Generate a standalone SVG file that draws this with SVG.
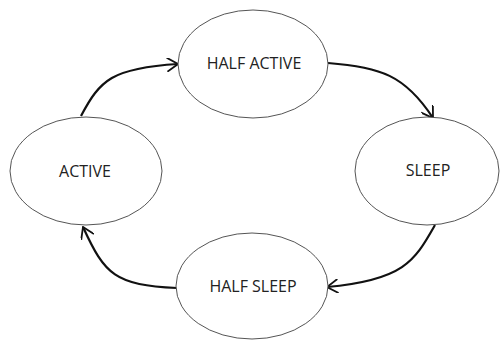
<svg xmlns="http://www.w3.org/2000/svg" width="500" height="340" viewBox="0 0 500 340">
<style>
.node ellipse{fill:#fff;stroke:#555;stroke-width:1}
.node text{font-family:"Open Sans","Liberation Sans",sans-serif;font-size:16px;fill:#222;text-anchor:middle}
.edge{fill:none;stroke:#111;stroke-width:2.2;marker-end:url(#arr)}
</style>
<defs>
<marker id="arr" markerUnits="userSpaceOnUse" viewBox="0 0 14 14" refX="13" refY="7" markerWidth="14" markerHeight="14" orient="auto">
<path d="M2,0 L13,7 L2,14" fill="none" stroke="#111" stroke-width="1.8"/>
</marker>
</defs>
<rect width="500" height="340" fill="#fff"/>
<g id="connectors">
<path class="edge" d="M81,116 C100,80 112,68 178,64"/>
<path class="edge" d="M328,63 C380,67 405,75 433,118"/>
<path class="edge" d="M435,225 C415,260 405,280 327,287"/>
<path class="edge" d="M177,288 C115,285 105,275 83,227"/>
</g>
<g id="half-active" class="node">
<ellipse cx="253" cy="64" rx="75" ry="54"/>
<text x="254" y="69">HALF ACTIVE</text>
</g>
<g id="active" class="node">
<ellipse cx="86" cy="171" rx="76" ry="54"/>
<text x="85" y="177">ACTIVE</text>
</g>
<g id="sleep" class="node">
<ellipse cx="427" cy="171" rx="72" ry="54"/>
<text x="428" y="176">SLEEP</text>
</g>
<g id="half-sleep" class="node">
<ellipse cx="252" cy="286" rx="76" ry="53"/>
<text x="253" y="292">HALF SLEEP</text>
</g>
</svg>
